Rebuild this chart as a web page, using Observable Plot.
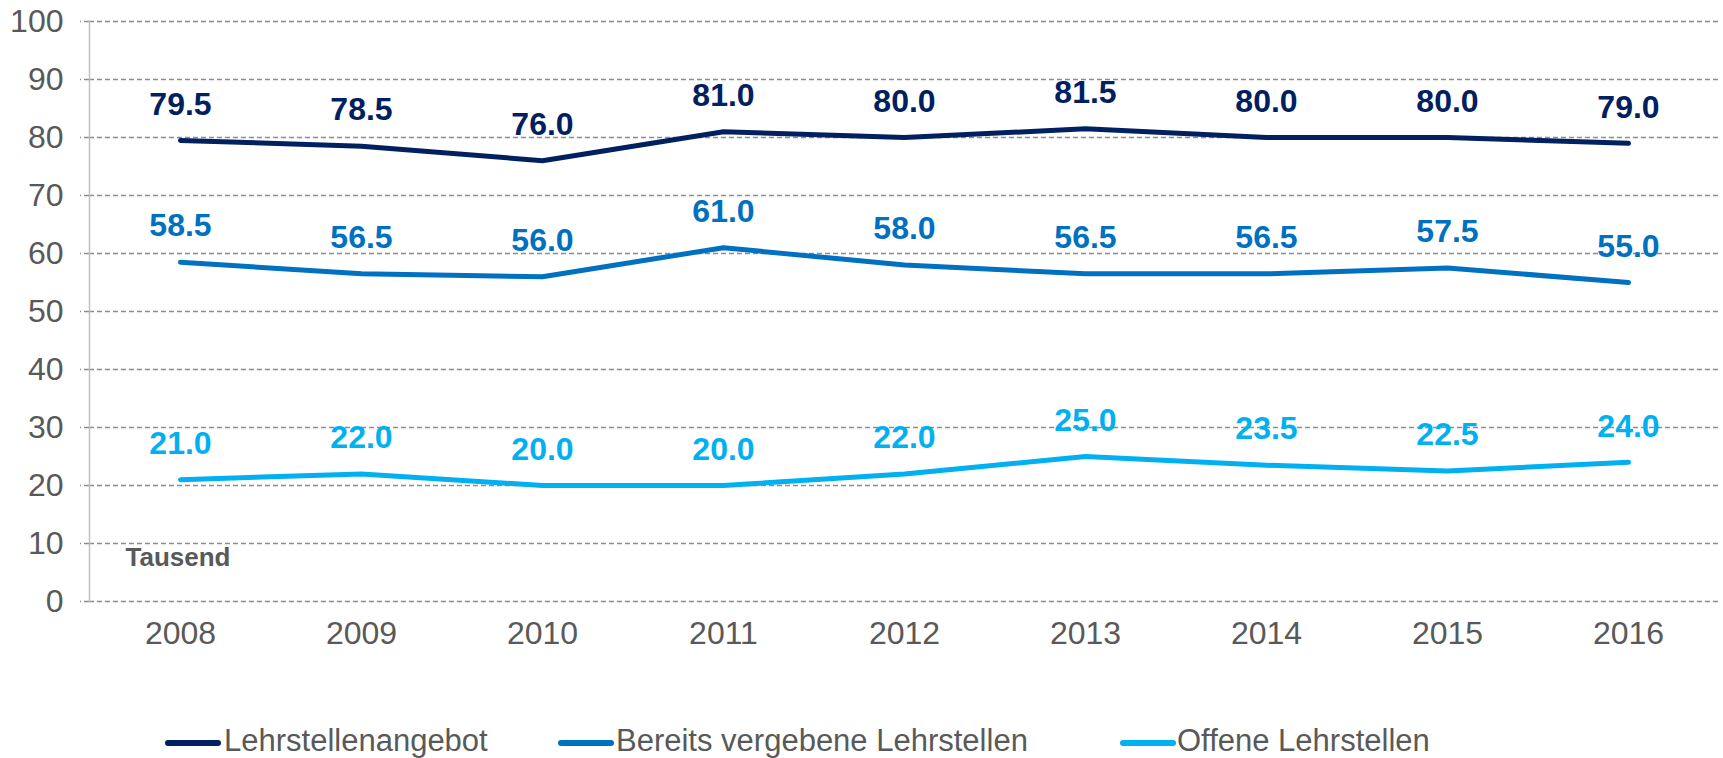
<!DOCTYPE html>
<html>
<head>
<meta charset="utf-8">
<script src="https://cdn.jsdelivr.net/npm/d3@7"></script>
<script src="https://cdn.jsdelivr.net/npm/@observablehq/plot@0.6"></script>
<style>
  html, body { margin: 0; padding: 0; background: #fff; }
  #wrap { position: relative; width: 1723px; height: 758px; font-family: "Liberation Sans", Arial, sans-serif; }
  #legend { position: absolute; left: 0; top: 723px; height: 36px; width: 1723px; }
  .sw { position: absolute; top: 17px; width: 56px; height: 6px; border-radius: 3px; }
  .lt { position: absolute; top: 0; line-height: 36px; font-size: 31px; color: #595959; white-space: nowrap; }
</style>
</head>
<body>
<div id="wrap"><div id="chart"></div><div id="legend"></div></div>
<script>
const years = ["2008", "2009", "2010", "2011", "2012", "2013", "2014", "2015", "2016"];
const seriesNames = ["Lehrstellenangebot", "Bereits vergebene Lehrstellen", "Offene Lehrstellen"];
const seriesColors = ["#002060", "#0070C0", "#00B0F0"];
const angebot  = [79.5, 78.5, 76.0, 81.0, 80.0, 81.5, 80.0, 80.0, 79.0];
const vergeben = [58.5, 56.5, 56.0, 61.0, 58.0, 56.5, 56.5, 57.5, 55.0];
const offene   = [21.0, 22.0, 20.0, 20.0, 22.0, 25.0, 23.5, 22.5, 24.0];
const yTicks = [0, 10, 20, 30, 40, 50, 60, 70, 80, 90, 100];
const unitLabel = "Tausend";

const seriesValues = [angebot, vergeben, offene];
const data = [];
seriesNames.forEach((s, i) => {
  years.forEach((y, j) => data.push({series: s, year: y, value: seriesValues[i][j]}));
});

const chart = Plot.plot({
  width: 1723,
  height: 700,
  marginTop: 21,
  marginBottom: 99,
  marginLeft: 89,
  marginRight: 5,
  style: {fontFamily: '"Liberation Sans", Arial, sans-serif', background: "#fff", overflow: "visible"},
  x: {type: "point", domain: years, padding: 0.5, label: null},
  y: {domain: [0, 100], label: null},
  color: {domain: seriesNames, range: seriesColors},
  marks: [
    Plot.gridY(yTicks, {stroke: "#8c8c8c", strokeOpacity: 1, strokeDasharray: "5,3", strokeWidth: 1.3}),
    Plot.axisY({ticks: yTicks, tickSize: 9, tickPadding: 17, fontSize: 32, fill: "#595959", stroke: "#8c8c8c", strokeOpacity: 1, strokeDasharray: "5,3", strokeWidth: 1.3, label: null}),
    Plot.axisX({tickSize: 0, tickPadding: 20, fontSize: 32, fill: "#595959", label: null}),
    Plot.frame({anchor: "left", stroke: "#bfbfbf", strokeWidth: 1.5}),
    Plot.line(data, {x: "year", y: "value", z: "series", stroke: "series", strokeWidth: 5, strokeLinecap: "round", strokeLinejoin: "round"}),
    Plot.text(data, {x: "year", y: "value", text: d => d.value.toFixed(1), fill: "series", dy: -36, fontSize: 32, fontWeight: "bold"}),
    Plot.text([unitLabel], {frameAnchor: "bottom-left", text: d => d, dx: 36, dy: -36, textAnchor: "start", fontWeight: "bold", fontSize: 26, fill: "#595959"})
  ]
});
document.getElementById("chart").appendChild(chart);

// Legend (HTML, below the SVG)
const legendPos = [[165, 224], [558, 616], [1120, 1177]];
const legend = document.getElementById("legend");
seriesNames.forEach((s, i) => {
  const sw = document.createElement("div");
  sw.className = "sw";
  sw.style.left = legendPos[i][0] + "px";
  sw.style.background = seriesColors[i];
  legend.appendChild(sw);
  const t = document.createElement("div");
  t.className = "lt";
  t.style.left = legendPos[i][1] + "px";
  t.textContent = s;
  legend.appendChild(t);
});
</script>
</body>
</html>
